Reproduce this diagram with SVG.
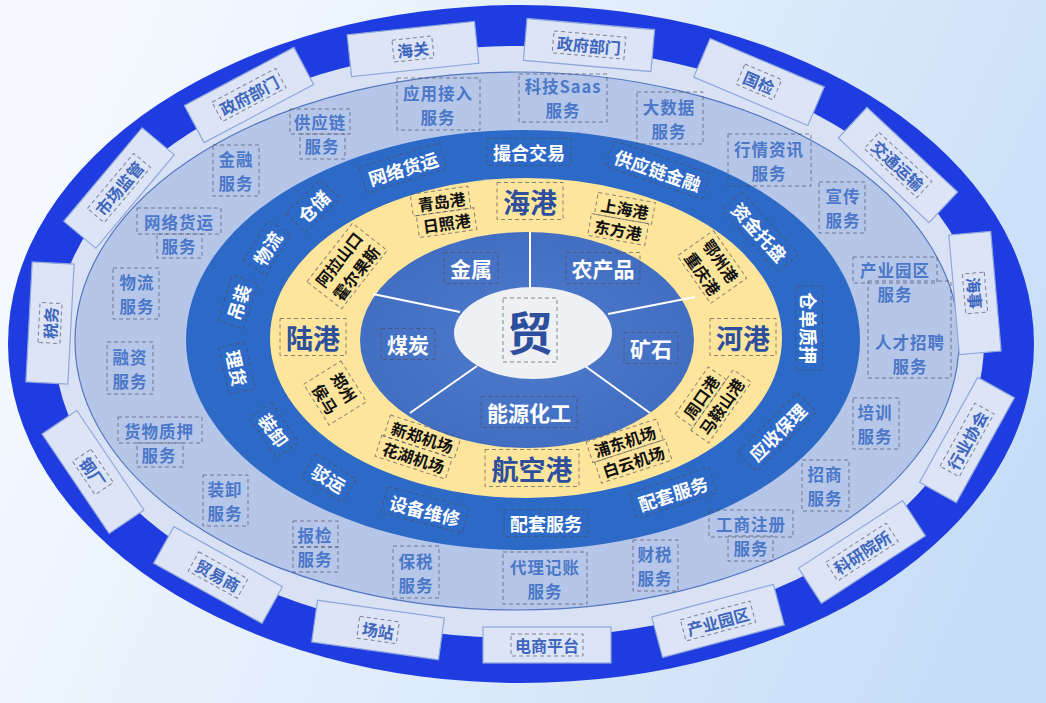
<svg xmlns="http://www.w3.org/2000/svg" width="1046" height="703" viewBox="0 0 1046 703">
<defs>
<linearGradient id="bg" x1="0" y1="0.3" x2="1" y2="0.6">
<stop offset="0" stop-color="#f6faff"/>
<stop offset="0.5" stop-color="#e1edfb"/>
<stop offset="1" stop-color="#c7def8"/>
</linearGradient>
<radialGradient id="cmG" cx="0.5" cy="0.5" r="0.6">
<stop offset="0" stop-color="#4f7bcc"/>
<stop offset="1" stop-color="#3f6cc0"/>
</radialGradient>
</defs>
<style>
text{font-family:"Noto Sans CJK SC","Noto Sans",sans-serif;font-weight:700;text-anchor:middle;dominant-baseline:central}
.db{fill:none;stroke:#4a4f5c;stroke-opacity:.65;stroke-width:1;stroke-dasharray:4 3}
.ob{fill:#dce4f6;stroke:#8fa7dc;stroke-width:1.2}
.ot{fill:#3e66bd;font-size:16px}
.sv{fill:#4b78c8;font-size:16.5px;letter-spacing:1px}
.bd{fill:#fff;font-size:18px}
.cm{fill:#fff;font-size:21px}
.pt{fill:#2d4f9e;font-size:27px}
.ct{fill:#111;font-size:16px}
.dv{stroke:#fff;stroke-width:2;fill:none}
</style>
<rect width="1046" height="703" fill="url(#bg)"/>
<g id="rings">
<ellipse cx="521" cy="344" rx="513" ry="339" fill="#1f3ce0"/>
<ellipse cx="519" cy="342" rx="465" ry="296" fill="#d9e2f5"/>
<ellipse cx="517" cy="341" rx="442" ry="269" fill="#b6c6e9" stroke="#5577c0" stroke-width="1.2"/>
<ellipse cx="523" cy="340" rx="337" ry="210" fill="#2d69c7"/>
<ellipse cx="526" cy="338" rx="256" ry="160" fill="#fde69c"/>
<ellipse cx="527" cy="340" rx="167" ry="108" fill="url(#cmG)"/>
</g>
<g id="connectors">
<line class="dv" x1="530" y1="232" x2="530" y2="290"/>
<line class="dv" x1="373" y1="294" x2="460" y2="312"/>
<line class="dv" x1="608" y1="314" x2="695" y2="297"/>
<line class="dv" x1="410" y1="413" x2="477" y2="366"/>
<line class="dv" x1="585" y1="366" x2="650" y2="413"/>
</g>
<ellipse id="center-bg" cx="533" cy="333" rx="79" ry="46" fill="#eff0f3"/>
<g id="core" transform="translate(530,330)"><rect class="db" x="-27" y="-32" width="54" height="64"/><text class="pt" style="font-size:46px">贸</text></g>

<!-- commodities -->
<g id="cm-jinshu" transform="translate(471,268)"><rect class="db" x="-27" y="-15.5" width="54" height="31"/><text class="cm">金属</text></g>
<g id="cm-nongchanpin" transform="translate(603,268)"><rect class="db" x="-37" y="-15.5" width="74" height="31"/><text class="cm">农产品</text></g>
<g id="cm-meitan" transform="translate(408,344)"><rect class="db" x="-27" y="-15.5" width="54" height="31"/><text class="cm">煤炭</text></g>
<g id="cm-kuangshi" transform="translate(651,348)"><rect class="db" x="-27" y="-15.5" width="54" height="31"/><text class="cm">矿石</text></g>
<g id="cm-nengyuan" transform="translate(529,412)"><rect class="db" x="-48" y="-15.5" width="96" height="31"/><text class="cm">能源化工</text></g>

<!-- ports -->
<g id="pt-haigang" transform="translate(530,201)"><rect class="db" x="-33" y="-18.5" width="66" height="37"/><text class="pt">海港</text></g>
<g id="pt-lugang" transform="translate(313,337)"><rect class="db" x="-33" y="-18.5" width="66" height="37"/><text class="pt">陆港</text></g>
<g id="pt-hegang" transform="translate(743,337)"><rect class="db" x="-33" y="-18.5" width="66" height="37"/><text class="pt">河港</text></g>
<g id="pt-hangkong" transform="translate(532,468)"><rect class="db" x="-47" y="-18.5" width="94" height="37"/><text class="pt">航空港</text></g>

<!-- cities -->
<g id="ct-qingdao" transform="translate(443,212) rotate(-8)"><rect class="db" x="-30" y="-22" width="58" height="22"/><rect class="db" x="-27" y="0" width="58" height="22"/><text class="ct"><tspan x="0" y="-11">青岛港</tspan><tspan x="2" y="11">日照港</tspan></text></g>
<g id="ct-shanghai" transform="translate(622,219) rotate(10)"><rect class="db" x="-28" y="-22" width="58" height="22"/><rect class="db" x="-31" y="0" width="58" height="22"/><text class="ct"><tspan x="1" y="-11">上海港</tspan><tspan x="-2" y="11">东方港</tspan></text></g>
<g id="ct-ezhou" transform="translate(712,267) rotate(55)"><rect class="db" x="-29" y="-22" width="58" height="44"/><text class="ct"><tspan x="0" y="-11">鄂州港</tspan><tspan x="0" y="11">重庆港</tspan></text></g>
<g id="ct-alashan" transform="translate(347,266) rotate(-52)"><rect class="db" x="-37" y="-22" width="74" height="44"/><text class="ct"><tspan x="0" y="-11">阿拉山口</tspan><tspan x="0" y="11">霍尔果斯</tspan></text></g>
<g id="ct-zhengzhou" transform="translate(335,393) rotate(58)"><rect class="db" x="-24" y="-22" width="48" height="44"/><text class="ct"><tspan x="0" y="-11">郑州</tspan><tspan x="0" y="11">侯马</tspan></text></g>
<g id="ct-xinzheng" transform="translate(418,447) rotate(18)"><rect class="db" x="-36" y="-22" width="74" height="22"/><rect class="db" x="-38" y="0" width="74" height="22"/><text class="ct"><tspan x="1" y="-11">新郑机场</tspan><tspan x="-1" y="11">花湖机场</tspan></text></g>
<g id="ct-pudong" transform="translate(629,451) rotate(-18)"><rect class="db" x="-38" y="-22" width="74" height="22"/><rect class="db" x="-36" y="0" width="74" height="22"/><text class="ct"><tspan x="-1" y="-11">浦东机场</tspan><tspan x="1" y="11">白云机场</tspan></text></g>
<g id="ct-zhoukou" transform="translate(712,400) rotate(-55)"><rect class="db" x="-33" y="-22" width="58" height="22"/><rect class="db" x="-37" y="0" width="74" height="22"/><text class="ct"><tspan x="-4" y="-11">周口港</tspan><tspan x="0" y="11">马鞍山港</tspan></text></g>

<!-- band services -->
<g id="bd-cuohe" transform="translate(529,152)"><rect class="db" x="-42" y="-13.5" width="84" height="27"/><text class="bd">撮合交易</text></g>
<g id="bd-gyljr" transform="translate(658,170) rotate(19)"><rect class="db" x="-51" y="-13.5" width="102" height="27"/><text class="bd">供应链金融</text></g>
<g id="bd-zijin" transform="translate(760,232) rotate(48)"><rect class="db" x="-42" y="-13.5" width="84" height="27"/><text class="bd">资金托盘</text></g>
<g id="bd-cangdan" transform="translate(809,328) rotate(90)"><rect class="db" x="-42" y="-13.5" width="84" height="27"/><text class="bd">仓单质押</text></g>
<g id="bd-yingshou" transform="translate(777,432) rotate(-45)"><rect class="db" x="-42" y="-13.5" width="84" height="27"/><text class="bd">应收保理</text></g>
<g id="bd-peitao1" transform="translate(673,493) rotate(-18)"><rect class="db" x="-42" y="-13.5" width="84" height="27"/><text class="bd">配套服务</text></g>
<g id="bd-peitao2" transform="translate(546,523)"><rect class="db" x="-42" y="-13.5" width="84" height="27"/><text class="bd">配套服务</text></g>
<g id="bd-shebei" transform="translate(425,510) rotate(14)"><rect class="db" x="-42" y="-13.5" width="84" height="27"/><text class="bd">设备维修</text></g>
<g id="bd-boyun" transform="translate(329,478) rotate(32)"><rect class="db" x="-24" y="-13.5" width="48" height="27"/><text class="bd">驳运</text></g>
<g id="bd-zhuangxie" transform="translate(274,430) rotate(55)"><rect class="db" x="-24" y="-13.5" width="48" height="27"/><text class="bd">装卸</text></g>
<g id="bd-lihuo" transform="translate(237,368) rotate(78)"><rect class="db" x="-24" y="-13.5" width="48" height="27"/><text class="bd">理货</text></g>
<g id="bd-diaozhuang" transform="translate(238,302) rotate(-72)"><rect class="db" x="-24" y="-13.5" width="48" height="27"/><text class="bd">吊装</text></g>
<g id="bd-wuliu" transform="translate(267,248) rotate(-58)"><rect class="db" x="-24" y="-13.5" width="48" height="27"/><text class="bd">物流</text></g>
<g id="bd-cangchu" transform="translate(313,206) rotate(-45)"><rect class="db" x="-24" y="-13.5" width="48" height="27"/><text class="bd">仓储</text></g>
<g id="bd-wangluo" transform="translate(403,168) rotate(-17)"><rect class="db" x="-42" y="-13.5" width="84" height="27"/><text class="bd">网络货运</text></g>

<!-- outer services -->
<g id="sv-gyl"><rect class="db" x="290" y="109" width="60" height="25"/><rect class="db" x="300" y="134" width="45" height="25"/><text class="sv"><tspan x="320" y="122">供应链</tspan><tspan x="322" y="146">服务</tspan></text></g>
<g id="sv-yingyong"><rect class="db" x="397" y="78" width="83" height="52"/><text class="sv"><tspan x="438" y="92.5">应用接入</tspan><tspan x="438" y="116.5">服务</tspan></text></g>
<g id="sv-saas"><rect class="db" x="519" y="74" width="88" height="48"/><text class="sv"><tspan x="563" y="85.5">科技Saas</tspan><tspan x="563" y="109.5">服务</tspan></text></g>
<g id="sv-dashuju"><rect class="db" x="637" y="92" width="66" height="52"/><text class="sv"><tspan x="669" y="106.5">大数据</tspan><tspan x="669" y="130.5">服务</tspan></text></g>
<g id="sv-hangqing"><rect class="db" x="728" y="134" width="83" height="52"/><text class="sv"><tspan x="769" y="149">行情资讯</tspan><tspan x="769" y="173">服务</tspan></text></g>
<g id="sv-xuanchuan"><rect class="db" x="819" y="182" width="46" height="51"/><text class="sv"><tspan x="843" y="195.5">宣传</tspan><tspan x="843" y="219.5">服务</tspan></text></g>
<g id="sv-chanye"><rect class="db" x="853" y="257" width="84" height="26"/><rect class="db" x="868" y="281" width="83" height="97"/><text class="sv"><tspan x="895" y="270">产业园区</tspan><tspan x="895" y="294">服务</tspan></text></g>
<g id="sv-rencai"><text class="sv"><tspan x="910" y="342">人才招聘</tspan><tspan x="910" y="366">服务</tspan></text></g>
<g id="sv-peixun"><rect class="db" x="853" y="398" width="46" height="51"/><text class="sv"><tspan x="875" y="412">培训</tspan><tspan x="875" y="436">服务</tspan></text></g>
<g id="sv-zhaoshang"><rect class="db" x="802" y="460" width="47" height="51"/><text class="sv"><tspan x="825" y="474">招商</tspan><tspan x="825" y="498">服务</tspan></text></g>
<g id="sv-gongshang"><rect class="db" x="709" y="510" width="84" height="27"/><rect class="db" x="728" y="536" width="45" height="25"/><text class="sv"><tspan x="751" y="524">工商注册</tspan><tspan x="751" y="548">服务</tspan></text></g>
<g id="sv-caishui"><rect class="db" x="633" y="540" width="45" height="51"/><text class="sv"><tspan x="655" y="554">财税</tspan><tspan x="655" y="578">服务</tspan></text></g>
<g id="sv-daili"><rect class="db" x="503" y="552" width="84" height="52"/><text class="sv"><tspan x="545" y="567">代理记账</tspan><tspan x="545" y="591">服务</tspan></text></g>
<g id="sv-baoshui"><rect class="db" x="393" y="546" width="46" height="52"/><text class="sv"><tspan x="416" y="560.5">保税</tspan><tspan x="416" y="584.5">服务</tspan></text></g>
<g id="sv-baojian"><rect class="db" x="293" y="521" width="45" height="26"/><rect class="db" x="293" y="547" width="45" height="25"/><text class="sv"><tspan x="315" y="534.5">报检</tspan><tspan x="315" y="558.5">服务</tspan></text></g>
<g id="sv-zhuangxie"><rect class="db" x="203" y="475" width="45" height="51"/><text class="sv"><tspan x="225" y="489">装卸</tspan><tspan x="225" y="513">服务</tspan></text></g>
<g id="sv-huowu"><rect class="db" x="118" y="417" width="84" height="26"/><rect class="db" x="137" y="443" width="46" height="24"/><text class="sv"><tspan x="159" y="430.5">货物质押</tspan><tspan x="159" y="454.5">服务</tspan></text></g>
<g id="sv-rongzi"><rect class="db" x="107" y="342" width="46" height="52"/><text class="sv"><tspan x="130" y="356.5">融资</tspan><tspan x="130" y="380.5">服务</tspan></text></g>
<g id="sv-wuliu"><rect class="db" x="113" y="268" width="46" height="51"/><text class="sv"><tspan x="137" y="282">物流</tspan><tspan x="137" y="306">服务</tspan></text></g>
<g id="sv-wangluo"><rect class="db" x="137" y="208" width="84" height="26"/><rect class="db" x="157" y="234" width="45" height="24"/><text class="sv"><tspan x="179" y="222">网络货运</tspan><tspan x="179" y="246">服务</tspan></text></g>
<g id="sv-jinrong"><rect class="db" x="213" y="145" width="46" height="51"/><text class="sv"><tspan x="236" y="159">金融</tspan><tspan x="236" y="183">服务</tspan></text></g>

<!-- outer partners -->
<g id="op-gov1" transform="translate(249,95) rotate(-28)"><rect class="ob" x="-62" y="-21" width="124" height="42"/><rect class="db" x="-36" y="-11" width="72" height="22"/><text class="ot">政府部门</text></g>
<g id="op-haiguan" transform="translate(413,49) rotate(-6)"><rect class="ob" x="-64" y="-21" width="128" height="42"/><rect class="db" x="-20" y="-11" width="40" height="22"/><text class="ot">海关</text></g>
<g id="op-gov2" transform="translate(589,45) rotate(5)"><rect class="ob" x="-64" y="-21" width="128" height="42"/><rect class="db" x="-36" y="-11" width="72" height="22"/><text class="ot">政府部门</text></g>
<g id="op-guojian" transform="translate(759,82) rotate(23)"><rect class="ob" x="-62" y="-21" width="124" height="42"/><rect class="db" x="-20" y="-11" width="40" height="22"/><text class="ot">国检</text></g>
<g id="op-jiaotong" transform="translate(898,165) rotate(43)"><rect class="ob" x="-62" y="-21" width="124" height="42"/><rect class="db" x="-36" y="-11" width="72" height="22"/><text class="ot">交通运输</text></g>
<g id="op-haishi" transform="translate(975,293) rotate(85)"><rect class="ob" x="-60" y="-21" width="120" height="42"/><rect class="db" x="-20" y="-11" width="40" height="22"/><text class="ot">海事</text></g>
<g id="op-hangye" transform="translate(967,440) rotate(-61)"><rect class="ob" x="-60" y="-21" width="120" height="42"/><rect class="db" x="-36" y="-11" width="72" height="22"/><text class="ot">行业协会</text></g>
<g id="op-keyan" transform="translate(862,552) rotate(-33)"><rect class="ob" x="-62" y="-21" width="124" height="42"/><rect class="db" x="-36" y="-11" width="72" height="22"/><text class="ot">科研院所</text></g>
<g id="op-chanye" transform="translate(718,621) rotate(-15)"><rect class="ob" x="-63" y="-21" width="126" height="42"/><rect class="db" x="-36" y="-11" width="72" height="22"/><text class="ot">产业园区</text></g>
<g id="op-dianshang" transform="translate(547,645)"><rect class="ob" x="-64" y="-18" width="128" height="36"/><rect class="db" x="-36" y="-11" width="72" height="22"/><text class="ot">电商平台</text></g>
<g id="op-changzhan" transform="translate(378,630) rotate(8)"><rect class="ob" x="-64" y="-21" width="128" height="42"/><rect class="db" x="-20" y="-11" width="40" height="22"/><text class="ot">场站</text></g>
<g id="op-maoyi" transform="translate(218,575) rotate(29)"><rect class="ob" x="-62" y="-21" width="124" height="42"/><rect class="db" x="-28" y="-11" width="56" height="22"/><text class="ot">贸易商</text></g>
<g id="op-gangchang" transform="translate(93,472) rotate(56)"><rect class="ob" x="-60" y="-21" width="120" height="42"/><rect class="db" x="-20" y="-11" width="40" height="22"/><text class="ot">钢厂</text></g>
<g id="op-shuiwu" transform="translate(50,323) rotate(-87)"><rect class="ob" x="-60" y="-21" width="120" height="42"/><rect class="db" x="-20" y="-11" width="40" height="22"/><text class="ot">税务</text></g>
<g id="op-shichang" transform="translate(119,188) rotate(-50)"><rect class="ob" x="-61" y="-21" width="122" height="42"/><rect class="db" x="-36" y="-11" width="72" height="22"/><text class="ot">市场监管</text></g>
</svg>
